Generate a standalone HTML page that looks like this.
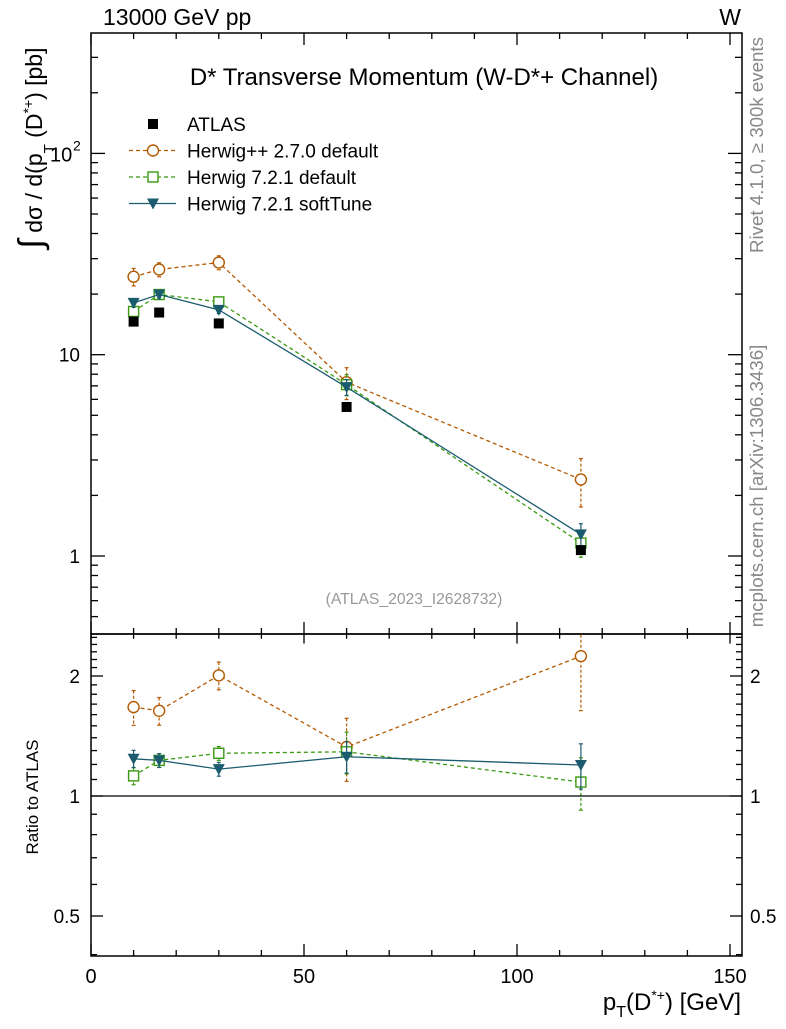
<!DOCTYPE html>
<html><head><meta charset="utf-8"><style>
body{margin:0;background:#fff;}
svg text{font-family:"Liberation Sans",sans-serif;}
</style></head><body>
<svg id="c" width="786" height="1024" xmlns="http://www.w3.org/2000/svg">
<defs><clipPath id="rc"><rect x="91" y="634" width="651" height="322"/></clipPath></defs>
<g id="g"></g>
</svg>
<script>
const categories=[10,16,30,60,115];
const atlasVals=[14.6,16.2,14.3,5.5,1.07];
const hppVals=[24.4,26.5,28.7,7.3,2.4];
const hppErr=[0.10,0.08,0.08,0.18,0.27];
const h721Vals=[16.4,19.9,18.3,7.1,1.16];
const h721Err=[0.05,0.04,0.04,0.12,0.15];
const softVals=[18.1,19.9,16.7,6.9,1.28];
const softErr=[0.05,0.04,0.04,0.09,0.13];
const xTicks=[0,50,100,150];
const rTicks=[0.5,1,2];

const NS="http://www.w3.org/2000/svg";
const g=document.getElementById('g');
const L=91,R=742,T=33,M=634,B=956;
const X=v=>L+(v)*(730-91)/150;
const Y=v=>556-Math.log10(v)*201.3;
const RY=v=>796-Math.log2(v)*120;
function el(t,a,p){const e=document.createElementNS(NS,t);for(const k in a)e.setAttribute(k,a[k]);(p||g).appendChild(e);return e;}
function ln(x1,y1,x2,y2,s,w,d,p){return el('line',{x1,y1,x2,y2,stroke:s||'#000','stroke-width':w||1.3,'stroke-dasharray':d||'none'},p);}
function tx(x,y,s,size,anchor,fill){const e=el('text',{x,y,'font-size':size,'text-anchor':anchor||'start',fill:fill||'#000'});e.textContent=s;return e;}

let f1=el('rect',{x:L,y:T,width:R-L,height:M-T,fill:'none',stroke:'#000','stroke-width':1.5});

let f2=el('rect',{x:L,y:M,width:R-L,height:B-M,fill:'none',stroke:'#000','stroke-width':1.5});

const rg=el('g',{'clip-path':'url(#rc)'});

for(let v=0;v<=150;v+=10){const maj=v%50===0;const len=maj?12:6;const x=X(v);
 ln(x,T,x,T+len);ln(x,M,x,M-len);ln(x,M,x,M+len*0.8);ln(x,B,x,B-len);}
xTicks.forEach(v=>{const t=tx(X(v),983,String(v),20,'middle');});
for(let d=-1;d<=2;d++)for(let m=1;m<10;m++){const v=m*Math.pow(10,d);const y=Y(v);if(y<T||y>M)continue;const len=m===1?14:7;ln(L,y,L+len,y);ln(R,y,R-len,y);}
[[1,"1"],[10,"10"]].forEach(([v,s])=>{const t=tx(80,Y(v)+7,s,19,'end');});
let t100=tx(50,Y(100)+8,"10",20,'start');
tx(73,Y(100)-3,"2",14,'start');
[0.4,0.5,0.6,0.7,0.8,0.9,1,1.1,1.2,1.3,1.4,1.5,1.6,1.7,1.8,1.9,2,2.1,2.2,2.3,2.4,2.5].forEach(v=>{const y=RY(v);if(y<M||y>B)return;const maj=[0.5,1,2].includes(v);const len=maj?12:6;ln(L,y,L+len,y);ln(R,y,R-len,y);});
rTicks.forEach(v=>{const s=String(v);let a=tx(80,RY(v)+7,s,19,'end');let b=tx(750,RY(v)+7,s,19,'start');});
ln(L,RY(1),R,RY(1),'#000',1.3);

let e;
e=tx(103,25,"13000 GeV pp",23);
e=tx(741,25,"W",23,'end');
e=tx(424,85,"D* Transverse Momentum (W-D*+ Channel)",24,'middle');
e=tx(414,604,"(ATLAS_2023_I2628732)",15.7,'middle','#999');
e=el('text',{x:0,y:0,'font-size':23,'text-anchor':'middle',transform:'translate(42,148) rotate(-90)'});e.innerHTML='<tspan font-size="34">∫</tspan> dσ / d(p<tspan font-size="15" dy="12">T</tspan><tspan dy="-12"> (D</tspan><tspan font-size="14" dy="-9">*+</tspan><tspan dy="9">) [pb]</tspan>';
e=el('text',{x:0,y:0,'font-size':17,'text-anchor':'middle',transform:'translate(38,797) rotate(-90)'});e.textContent='Ratio to ATLAS';
e=el('text',{x:741,y:1010,'font-size':24,'text-anchor':'end'});e.innerHTML='p<tspan font-size="16" dy="7">T</tspan><tspan dy="-7">(D</tspan><tspan font-size="14" dy="-10">*+</tspan><tspan dy="10">) [GeV]</tspan>';
e=el('text',{x:0,y:0,'font-size':18.7,'text-anchor':'middle',fill:'#888',transform:'translate(763,145) rotate(-90)'});e.textContent='Rivet 4.1.0, ≥ 300k events';
e=el('text',{x:0,y:0,'font-size':18.7,'text-anchor':'middle',fill:'#888',transform:'translate(763,486) rotate(-90)'});e.textContent='mcplots.cern.ch [arXiv:1306.3436]';

function marker(kind,x,y,c,name,p){let m;
 if(kind==='sq')m=el('rect',{x:x-5,y:y-5,width:10,height:10,fill:'#000'},p);
 else if(kind==='circ')m=el('circle',{cx:x,cy:y,r:5.5,fill:'#fff',stroke:c,'stroke-width':1.4},p);
 else if(kind==='osq')m=el('rect',{x:x-5,y:y-5,width:10,height:10,fill:'#fff',stroke:c,'stroke-width':1.4},p);
 else m=el('path',{d:`M${x-6},${y-5}L${x+6},${y-5}L${x},${y+6}Z`,fill:c},p);
 }

const series=[
 {vals:hppVals,err:hppErr,c:'#b35900',kind:'circ',dash:'4,3',name:'herwigpp-point'},
 {vals:h721Vals,err:h721Err,c:'#3a9a10',kind:'osq',dash:'4,3',name:'herwig721-point'},
 {vals:softVals,err:softErr,c:'#1a5c6e',kind:'tri',dash:'none',name:'softtune-point'}];
series.forEach(s=>{
 const p=categories.map((x,i)=>X(x)+','+Y(s.vals[i])).join(' ');
 let pl=el('polyline',{points:p,fill:'none',stroke:s.c,'stroke-width':1.3,'stroke-dasharray':s.dash});
 const rp=categories.map((x,i)=>X(x)+','+RY(s.vals[i]/atlasVals[i])).join(' ');
 let rl=el('polyline',{points:rp,fill:'none',stroke:s.c,'stroke-width':1.3,'stroke-dasharray':s.dash},rg);
 categories.forEach((x,i)=>{const v=s.vals[i],e2=s.err[i],xx=X(x);const dd=s.dash==='none'?'none':'3,2';
  ln(xx,Y(v*(1+e2)),xx,Y(v*(1-e2)),s.c,1.2,dd);
  ln(xx-2,Y(v*(1+e2)),xx+2,Y(v*(1+e2)),s.c,1.2);ln(xx-2,Y(v*(1-e2)),xx+2,Y(v*(1-e2)),s.c,1.2);
  marker(s.kind,xx,Y(v),s.c,s.name);
  const r=v/atlasVals[i];
  ln(xx,RY(r*(1+e2)),xx,RY(r*(1-e2)),s.c,1.2,dd,rg);
  ln(xx-2,RY(r*(1+e2)),xx+2,RY(r*(1+e2)),s.c,1.2,null,rg);ln(xx-2,RY(r*(1-e2)),xx+2,RY(r*(1-e2)),s.c,1.2,null,rg);
  marker(s.kind,xx,RY(r),s.c,s.name+'-ratio',rg);});
});
categories.forEach((x,i)=>marker('sq',X(x),Y(atlasVals[i]),'#000','atlas-point'));

const leg=[['ATLAS','sq','#000','none'],['Herwig++ 2.7.0 default','circ','#b35900','4,3'],['Herwig 7.2.1 default','osq','#3a9a10','4,3'],['Herwig 7.2.1 softTune','tri','#1a5c6e','none']];
leg.forEach((l,i)=>{const y=124+i*26.5;
 if(l[1]!=='sq')ln(129,y,176,y,l[2],1.3,l[3]);
 marker(l[1],153,y,l[2],'legend-marker');
 const t=tx(187,y+7,l[0],19);});
</script>
</body></html>
